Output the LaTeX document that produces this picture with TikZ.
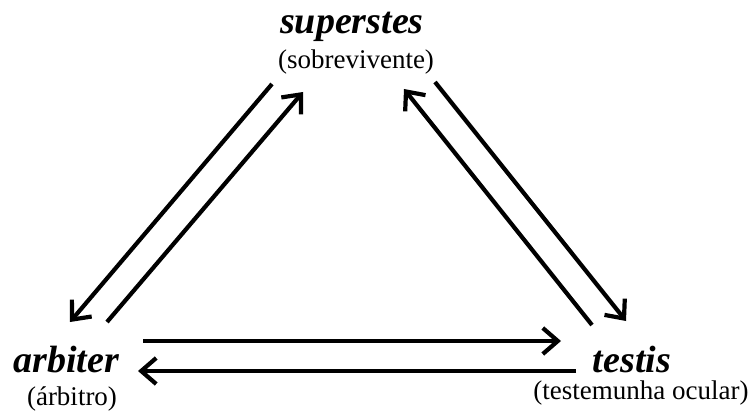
\documentclass[tikz,border=0pt]{standalone}
\usepackage{fontspec}
\setmainfont{Liberation Serif}
\usetikzlibrary{arrows.meta}
\begin{document}
\begin{tikzpicture}[x=1pt,y=-1pt,
  term/.style={font=\fontsize{38}{40}\selectfont\bfseries\itshape, anchor=base, inner sep=0pt},
  gloss/.style={font=\fontsize{27}{30}\selectfont, anchor=base, inner sep=0pt},
  conn/.style={line width=4.2pt, -{Straight Barb[length=15pt,width=26pt]}}]
\useasboundingbox (0,0) rectangle (750,412);
\node[term] (sup) at (352,34) {superstes};
\node[gloss] (supg) at (356,69) {(sobrevivente)};
\node[term] (arb) at (66,372) {arbiter};
\node[gloss] (arbg) at (72,405) {(árbitro)};
\node[term] (tes) at (632,372) {testis};
\node[gloss] (tesg) at (641,399) {(testemunha ocular)};
% connector end points
\coordinate (sa1) at (272,84);
\coordinate (as1) at (70,322);
\coordinate (as2) at (107,322);
\coordinate (sa2) at (303,92);
\coordinate (st1) at (435,82);
\coordinate (ts1) at (626,321);
\coordinate (ts2) at (592,325);
\coordinate (st2) at (404,89);
\coordinate (at1) at (143,341);
\coordinate (ta1) at (561,341);
\coordinate (ta2) at (576,371);
\coordinate (at2) at (138,371);
\draw[conn] (sa1) -- (as1);
\draw[conn] (as2) -- (sa2);
\draw[conn] (st1) -- (ts1);
\draw[conn] (ts2) -- (st2);
\draw[conn] (at1) -- (ta1);
\draw[conn] (ta2) -- (at2);
\end{tikzpicture}
\end{document}
